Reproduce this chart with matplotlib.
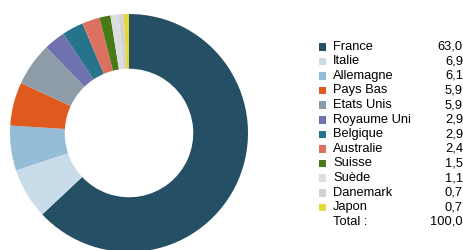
import matplotlib
matplotlib.use("Agg")
import matplotlib.pyplot as plt
from matplotlib.patches import Rectangle

plt.rcParams['font.family'] = ['Liberation Sans', 'DejaVu Sans']

pays = ["France", "Italie", "Allemagne", "Pays Bas", "Etats Unis", "Royaume Uni",
        "Belgique", "Australie", "Suisse", "Suède", "Danemark", "Japon"]
parts = [63.0, 6.9, 6.1, 5.9, 5.9, 2.9, 2.9, 2.4, 1.5, 1.1, 0.7, 0.7]
couleurs = ["#254f64", "#c9dcea", "#95bdd7", "#df5a1f", "#8d9ca7", "#6f72ae",
            "#27748a", "#dc7162", "#487b17", "#dcdde0", "#d3d3d3", "#e5d83b"]
total_label = "Total :"
total_value = "100,0"

W, H = 464, 250
fig = plt.figure(figsize=(W / 100, H / 100), dpi=100)

# donut
ax = fig.add_axes([10 / W, (H - 252) / H, 238 / W, 238 / H])
ax.pie(parts, colors=couleurs, startangle=90, counterclock=False,
       radius=1.0, wedgeprops=dict(width=0.46, linewidth=0))
ax.set_xlim(-1, 1)
ax.set_ylim(-1, 1)
ax.set_aspect("equal")
ax.axis("off")

# legende
fs = 9.3
y0, dy = 46.7, 14.6
for i, (p, v, c) in enumerate(zip(pays, parts, couleurs)):
    y = y0 + i * dy
    fig.patches.append(Rectangle((319 / W, (H - y - 3.8) / H), 7.5 / W, 7.5 / H,
                                 transform=fig.transFigure, color=c, lw=0))
    fig.text(333 / W, (H - y) / H, p, fontsize=fs, va="center", ha="left", color="black")
    fig.text(463 / W, (H - y) / H, f"{v:.1f}".replace(".", ","), fontsize=fs,
             va="center", ha="right", color="black")
y = y0 + len(pays) * dy
fig.text(333 / W, (H - y) / H, total_label, fontsize=fs, va="center", ha="left", color="black")
fig.text(463 / W, (H - y) / H, total_value, fontsize=fs, va="center", ha="right", color="black")

fig.savefig("out.png", dpi=100)
